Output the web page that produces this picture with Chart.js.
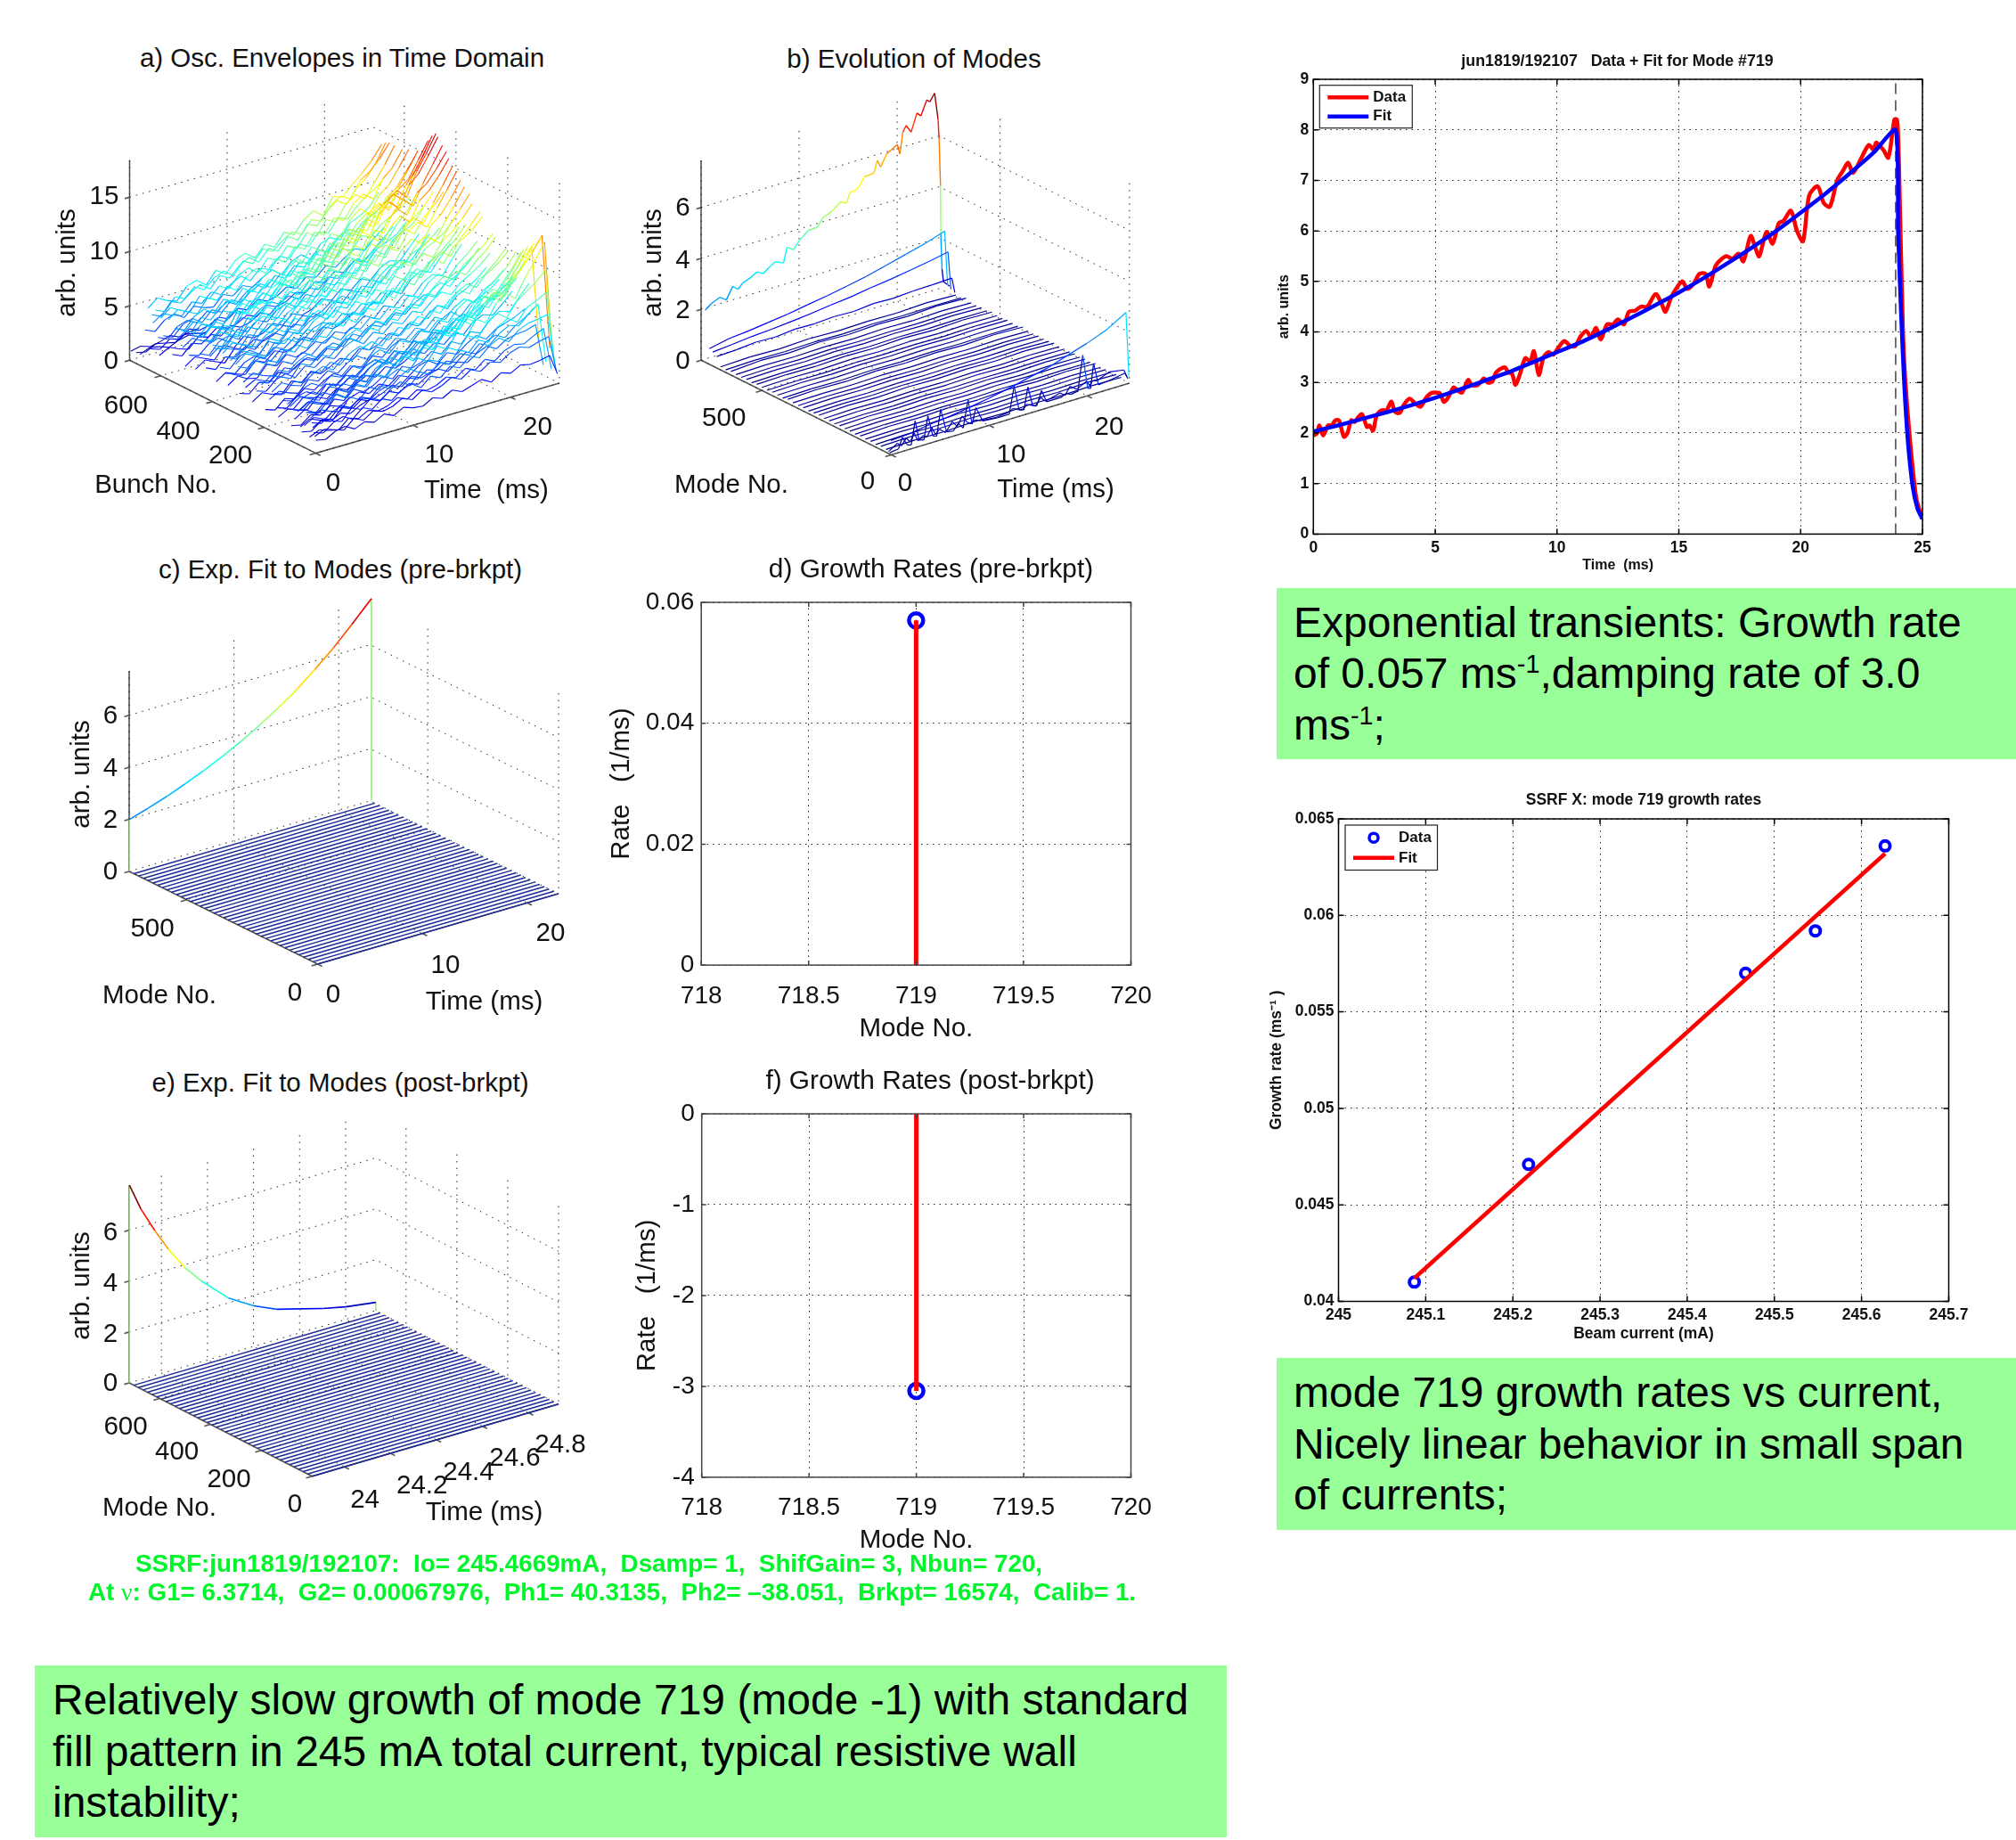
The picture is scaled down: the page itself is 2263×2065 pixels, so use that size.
<!DOCTYPE html>
<html>
<head>
<meta charset="utf-8">
<title>SSRF mode 719</title>
<script src="https://cdn.jsdelivr.net/npm/chart.js@4"></script>
<style>
  html, body { margin: 0; padding: 0; background: #fff; overflow: hidden; width: 2263px; height: 2065px; }
  canvas { position: absolute; }
  .txt { position: absolute; white-space: pre; color: #111; font-family: "Liberation Sans", Arial, sans-serif; }
  .box { position: absolute; background: #99ff99; color: #000; font-family: "Liberation Sans", Arial, sans-serif;
         font-size: 48px; line-height: 57.7px; box-sizing: border-box; white-space: nowrap; }
  .box sup { font-size: 60%; line-height: 0; }
  .cap { position: absolute; color: #00f52a; font-family: "Liberation Sans", Arial, sans-serif; font-weight: bold;
         font-size: 27.8px; white-space: pre; transform: translateX(-50%); }
</style>
</head>
<body>
<script>
// --- datos de las graficas 2D ---
const dataT = [0,.15,.25,.4,.6,.75,.9,1.05,1.25,1.4,1.55,1.7,1.85,2,2.2,2.3,2.45,2.6,2.8,3,3.2,3.35,3.55,3.7,3.95,4.15,4.4,4.6,4.8,5,5.2,5.35,5.5,5.75,5.9,6.1,6.35,6.5,6.75,7,7.15,7.35,7.5,7.85,8,8.15,8.3,8.5,8.7,8.9,9.05,9.25,9.45,9.65,9.85,10,10.3,10.55,10.75,10.95,11.2,11.4,11.6,11.8,12.05,12.3,12.5,12.75,12.95,13.2,13.45,13.7,14.05,14.3,14.45,14.7,14.95,15.15,15.35,15.6,15.85,16.1,16.25,16.5,16.7,16.95,17.2,17.45,17.65,17.95,18.15,18.3,18.6,18.85,19.1,19.3,19.6,19.85,20.1,20.35,20.7,20.95,21.2,21.5,21.75,21.95,22.15,22.5,22.8,23,23.1,23.4,23.6,23.85,23.95,24,24.05,24.2,24.3,24.5,24.75,25];
const dataZ = [1.95,2,2.15,1.95,2.15,2.15,2.25,2.25,1.93,2,2.25,2.22,2.32,2.37,2.12,2.15,2.05,2.35,2.45,2.45,2.62,2.42,2.4,2.55,2.68,2.6,2.52,2.68,2.78,2.8,2.78,2.62,2.68,2.9,2.85,2.8,3.05,2.95,2.95,3.08,3,3.02,3.2,3.3,3.2,3.18,2.95,3.2,3.48,3.42,3.62,3.15,3.5,3.6,3.55,3.65,3.82,3.72,3.72,3.9,4.02,3.9,4.08,3.85,4.15,4.15,4.25,4.15,4.4,4.42,4.5,4.5,4.75,4.55,4.4,4.7,4.9,5,4.85,4.95,5.15,5.15,4.9,5.3,5.42,5.5,5.45,5.55,5.4,5.9,5.65,5.5,5.98,5.75,6.15,6.2,6.4,6,5.8,6.7,6.88,6.55,6.48,7,7.2,7.35,7.15,7.45,7.7,7.6,7.75,7.6,7.45,8.2,8.2,7.9,7,4,3,1.8,.7,.3];
const fitT = [0,1,2,3,4,5,6,7,8,9,10,11,12,13,14,15,16,17,18,19,20,21,22,23,23.9,24,24.13,24.25,24.4,24.6,24.8,25];
const fitZ = [2.03,2.15,2.28,2.41,2.55,2.7,2.86,3.03,3.2,3.4,3.6,3.8,4.03,4.27,4.52,4.78,5.06,5.36,5.67,6,6.36,6.73,7.13,7.55,8,6,4.3,3,1.85,.94,.5,.3];
const breakT = [23.9, 23.9];
const breakZ = [0, 9];
const currentMa = [245.087,245.218,245.467,245.547,245.627];
const growthRate = [.041,.0471,.057,.0592,.0636];
const fitCurrent = [245.087,245.627];
const fitRate = [.0412,.0632];
const preMode = [719,719];
const preRate = [0,.057];
const postMode = [719,719];
const postRate = [0,-3.05];

// --- datos de las graficas 3D ---
const envT = [0,1,2,3,4,5,6,7,8,9,10,11,12,13,14,15,16,17,18,19,20,21,22,23,24,24.8];
const envBunches = [715,695,680,660,650,640,630,620,605,590,570,555,540,520,505,490,480,465,450,440,425,410,400,385,370,360,340,325,310,295,280,260,245,230,210,195,180,160,145,125,110,95,80,70,55,45,30,24,20,16,12,8,4,0,
  635,600,545,510,470,455,432,415,390,375,345,330,300,270,220,170,130,100,85,62,38,610,515,350,272,150,60];
const envRows = [
[.9,1.1,.8,1,1.3,.9,1.1,1.2],
[1,.8,1.3,1.1,.9,1.4,1.2,1],
[1,1.4,1.2,.9,1.3,1.5,1.1,1.4],
[3.5,3.1,3.9,4.2,3.6,4.4,4,3.8,4.7,4.3,5,4.6,5.2,5.7,5,5.9,6.3,5.6,6.8,7.1,6.6,7.9,8.3,8.9,10],
[5.6,6.3,5.8,5.5,6.6,6.9,6.2,7.3,6.7,7.7,8.1,7.4,8.4,7.9,9,8.5,9.6,10.2,9.5,11,10.7,11.6,12.4,13.3,14.5],
[2,1.7,2.4,2.1,2.8,2.4,2.6,3.1,2.7,3.4,3,3.7,3.3,3.5,4.1,3.7,4.5,4.2,5,4.6,5.3,5.8,5.4,6.3,7],
[4.5,5.1,4.7,4.4,5.4,5,5.8,5.3,6,6.5,5.8,6.7,6.3,7.3,6.8,7.9,7.4,8.5,8.1,9.3,8.9,9.9,10.6,11.1,12],
[5.8,5.4,6.5,6.1,6.9,6.4,7.2,7.6,6.9,8,7.5,8.6,8.1,8.8,9.4,8.9,10,9.6,10.8,11.4,10.9,12.3,12.9,13.8,15],
[1.8,2.3,1.9,1.6,2.5,2.2,2.9,2.5,2.7,3.2,2.8,3.6,3.2,3.4,4,3.7,4.5,4.1,4.9,4.5,5.4,5,5.9,6.7,7.5],
[3.8,3.4,4.3,4.6,4,4.9,4.4,5.3,4.8,5.6,6,5.4,6.4,5.9,7,6.6,7.5,7.1,8.2,8.7,8.1,9.2,9.7,10.2,11],
[5.5,6.2,5.7,5.3,6.5,6,7,6.4,7.4,7.9,7.2,8.3,7.7,8.9,8.4,9.7,9.2,10.5,10,11.3,11.9,11.2,12.8,13.6,15],
[2.5,2.1,3,2.7,3.3,2.9,3.6,3.2,3.4,4,3.6,4.4,4.8,4.2,5,4.6,5.5,5.1,5.9,6.4,5.8,6.8,7.2,7.6,8.5],
[4,4.6,4.1,3.8,4.9,4.4,5.2,4.7,5.6,6,5.3,6.3,5.8,6.8,6.4,7.4,7,8,7.6,8.7,8.3,9.2,9.7,10.2,11],
[5.1,4.7,5.8,5.3,6.2,6.6,5.9,7,6.5,7.5,7,8.1,8.6,7.8,9,8.4,9.6,9,10.3,11,10.3,11.9,12.5,13.7,15],
[2,2.6,2.2,1.8,2.9,2.4,3.2,2.8,3,3.6,3.2,4,3.6,3.9,4.6,4.2,5,4.6,5.4,5,5.9,6.3,6,7,8],
[3.2,2.9,3.7,4,3.4,4.3,3.8,4.6,4.2,5,5.4,4.8,5.7,5.2,6.2,5.8,6.7,6.3,7.4,8,7.3,8.5,8.9,9.4,10.5],
[5.1,5.9,5.4,5,6.3,5.8,6.8,6.2,7.3,7.7,7,8.2,7.7,8.9,8.3,9.8,9.2,10.6,10.1,11.7,12.3,11.6,13.3,14.5,16],
[2.2,2.8,2.4,2,3.1,2.7,3.4,3,3.3,3.9,3.5,4.3,3.9,4.2,4.9,4.4,5.3,4.9,5.8,5.3,6.3,6.8,6.4,7.4,8.5],
[3.8,3.4,4.4,4.7,4.1,5,4.5,5.5,5,5.9,6.4,5.7,6.8,6.2,7.4,7,8.1,7.5,8.8,9.5,8.9,10.1,10.7,11.4,12.5],
[5.4,6.2,5.8,5.2,6.8,6.3,7.3,6.7,7.9,8.4,7.6,9,8.4,9.9,9.2,10.8,10.2,11.9,11.2,13,13.8,12.9,15,16.4,18],
[2.8,2.4,3.3,3,3.7,3.2,3.9,4.2,3.7,4.5,4.1,5,4.5,5.4,5.8,5.2,6.2,5.8,6.8,7.4,6.8,7.8,8.2,8.7,9.5],
[4,4.7,4.2,3.9,5,4.6,5.5,5,6,6.4,5.8,6.9,6.4,7.5,7,8.3,7.7,9,8.5,9.9,10.6,9.9,11.2,12,13],
[5.2,4.8,6,5.5,6.6,7,6.3,7.5,6.9,8.1,8.6,7.8,9.2,8.6,10.1,9.5,11.1,10.4,12.1,12.8,12,13.8,14.4,15.5,16.8],
[2,2.6,2.2,1.9,2.9,2.5,3.3,2.9,3.2,3.8,3.3,4.2,3.8,4.1,4.8,4.3,5.2,4.8,5.7,5.2,6.3,6.8,6.4,7.5,8.5],
[3.5,3.1,4,4.3,3.7,4.6,4.1,5,4.5,5.3,5.7,5.1,6,5.6,6.6,6.1,7.2,6.8,7.8,8.4,7.8,9,9.4,10,11],
[4.9,5.6,5.2,4.7,6,5.5,6.4,5.9,7,7.4,6.8,7.9,7.4,8.6,8.1,9.4,8.8,10.2,9.7,11.2,11.8,11.1,12.6,14,15.5],
[2.2,2.8,2.3,2.1,3.1,2.7,3.5,3,3.3,3.9,3.5,4.3,3.9,4.3,5,4.5,5.4,5,5.9,5.5,6.5,7,6.6,7.9,9],
[3.4,3,3.9,4.2,3.6,4.4,4,4.9,4.4,5.2,5.6,5,5.9,5.5,6.4,6,7,6.6,7.6,8.2,7.6,8.7,9.2,9.9,11],
[4.5,5.2,4.8,4.3,5.5,5.1,5.9,5.5,6.4,6.9,6.2,7.3,6.8,7.9,7.3,8.6,8.1,9.4,8.9,10.2,10.9,10.2,11.7,12.8,14],
[2,1.7,2.5,2.2,2.9,2.5,3.1,3.5,3,3.8,3.4,4.2,3.8,4.6,5,4.4,5.3,4.9,5.7,6.2,5.7,6.6,7,7.6,8.5],
[3.2,3.8,3.3,3,4.1,3.6,4.4,3.9,4.7,5.1,4.5,5.4,5,5.8,5.4,6.3,5.9,6.8,6.4,7.5,8,7.4,8.4,9.1,10],
[4.2,3.9,4.9,4.5,5.2,5.6,5,5.9,5.5,6.4,6.8,6.1,7.2,6.7,7.9,7.3,8.6,8,9.2,9.9,9.2,10.5,11,11.6,12.5],
[1.8,2.4,2,1.7,2.7,2.3,3,2.6,3,3.5,3.1,3.9,3.5,3.8,4.5,4,4.9,4.4,5.2,5.8,5.2,6.2,6.6,7.2,8],
[3,2.7,3.5,3.8,3.2,4,3.6,4.3,3.9,4.7,5.1,4.5,5.3,4.9,5.7,5.3,6.2,5.8,6.6,7.2,6.7,7.6,8.1,8.7,9.5],
[3.8,4.4,4,3.6,4.7,4.3,5,4.6,5.4,5.8,5.2,6.2,5.7,6.6,6.1,7.2,6.7,7.8,7.3,8.5,9.1,8.5,9.5,10.2,11.2],
[1.7,1.4,2.2,1.9,2.6,2.2,2.8,3.2,2.7,3.4,3,3.8,3.4,4.2,4.6,4,4.9,4.4,5.3,5.8,5.1,6,6.4,6.8,7.5],
[2.8,3.3,2.9,2.6,3.6,3.2,3.9,3.4,4.1,4.5,3.9,4.8,4.3,5.1,4.7,5.5,5.1,6,5.5,6.4,6.9,6.3,7.2,7.7,8.5],
[3.6,3.3,4.2,3.8,4.4,4.8,4.2,5,4.6,5.4,5.8,5.1,6.1,5.6,6.6,6,7.1,6.6,7.6,8.2,7.6,8.7,9.1,9.7,10.5],
[1.6,2.1,1.7,1.5,2.4,2,2.7,2.3,2.6,3.1,2.7,3.4,3,3.4,4,3.6,4.3,3.9,4.7,4.3,5.2,5.6,5.3,6.1,7],
[2.6,2.3,3.1,3.4,2.8,3.6,3.2,3.9,3.4,4.2,4.6,4,4.8,4.4,5.2,4.8,5.6,5.2,6,6.6,6,7,7.3,7.8,8.5],
[3.2,3.7,3.3,3,4,3.6,4.3,3.8,4.6,5,4.4,5.3,4.9,5.7,5.2,6.2,5.8,6.7,6.3,7.5,8,7.4,8.6,9.7,11],
[1.4,1.2,1.9,1.6,2.2,1.9,2.4,2.7,2.3,2.9,2.5,3.2,2.8,3.5,3.8,3.2,4,3.6,4.3,4.8,4.2,4.9,5.2,5.5,6],
[2.2,2.8,2.3,2,3,2.6,3.4,2.9,3.2,3.8,3.3,4.2,3.8,4.1,4.8,4.3,5.2,4.7,5.6,5.2,6.2,6.7,6.4,7.5,8.5],
[3,3.6,3.2,2.9,4,3.5,4.4,3.9,4.9,5.3,4.7,5.7,5.2,6.3,5.8,7,6.5,7.6,7.2,8.5,9.1,8.4,9.8,11,12,2.5],
[1.3,1.1,1.8,1.5,2,1.7,2.2,2.5,2.1,2.7,2.3,2.9,2.6,3.2,3.5,3,3.6,3.3,3.9,4.3,3.8,4.4,4.6,4.7,5,1.1],
[2,2.5,2.1,1.8,2.8,2.3,3,2.6,2.9,3.4,3,3.7,3.3,3.6,4.2,3.8,4.5,4.1,4.9,4.5,5.3,5.8,5.5,6.3,7,1.5],
[3.4,3,3.9,4.3,3.7,4.7,4.2,5.1,4.6,5.6,6.1,5.4,6.5,5.9,7.2,6.6,8,7.4,8.7,9.5,8.8,10.4,11.1,12.2,13.5,2.9],
[1.2,1.6,1.3,1.1,1.9,1.6,2.1,1.8,2,2.5,2.1,2.7,2.4,2.6,3.1,2.8,3.4,3,3.7,3.3,4,4.3,4.1,4.6,5,1.1],
[3,3.5,3.1,2.8,3.9,3.4,4.3,3.8,4.8,5.2,4.6,5.7,5.1,6.3,5.7,7,6.4,7.7,7.1,8.6,9.3,8.6,10.2,11.5,13,2.7],
[2.6,2.3,3,3.4,2.9,3.7,3.3,4.2,3.7,4.5,5,4.4,5.3,4.9,5.9,5.4,6.5,6,7.1,7.8,7.1,8.3,9,9.6,10.5,2.2],
[2.2,2.7,2.3,2,3,2.6,3.4,2.9,3.7,4.1,3.5,4.5,4,4.9,4.4,5.5,5,5.9,5.4,6.6,7.1,6.5,7.6,8,8.5,1.8],
[1.8,1.5,2.2,2.5,2,2.8,2.4,3.1,2.7,3.4,3.7,3.1,3.9,3.5,4.3,3.9,4.7,4.3,5.1,5.6,5,5.8,6.2,6.3,6.5,1.4],
[1.5,1.9,1.6,1.3,2.1,1.7,2.3,2,2.2,2.7,2.3,2.9,2.5,2.8,3.3,2.9,3.5,3.1,3.7,3.4,4,4.3,4,4.3,4.5,1.1],
[1.2,1,1.5,1.7,1.2,1.6,1.3,1.8,1.4,1.9,1.6,1.5,2,1.7,2.2,1.8,2.1,2.4,1.9,2.5,2.2,2.7,2.5,2.6,2.8,.9],
[5.2,4.8,5.9,5.5,6.2,6.7,6,7,6.5,7.4,7.9,7.2,8.2,7.7,8.8,8.2,9.4,9,10.1,10.8,10.2,11.4,12.1,13.2,14.8],
[5.3,6,5.5,5.1,6.3,5.8,6.7,6.2,7.2,7.6,6.9,8,7.5,8.6,8.1,9.3,8.7,10,9.5,10.9,11.5,10.9,12.2,13.5,15],
[5,4.6,5.6,6,5.4,6.4,5.9,6.9,6.3,7.4,7.8,7.1,8.2,7.6,8.9,8.3,9.6,9.1,10.4,11.1,10.4,11.9,12.6,13.9,15.3],
[5,5.8,5.3,4.9,6,5.6,6.6,6,7.1,7.5,6.8,7.9,7.4,8.6,8,9.4,8.8,10.2,9.6,11.2,11.8,11.1,12.7,14.1,15.6],
[5.2,4.9,6,5.5,6.4,6.9,6.2,7.4,6.8,8,8.4,7.6,9,8.3,9.7,9.1,10.6,10,11.6,12.4,11.6,13.3,14,15.5,17],
[5.3,6.1,5.6,5.1,6.6,6.1,7.1,6.5,7.7,8.2,7.4,8.7,8.1,9.5,8.9,10.4,9.8,11.4,10.8,12.6,13.3,12.5,14.4,15.9,17.6],
[5.3,4.9,6.1,5.7,6.7,7.2,6.4,7.7,7,8.3,8.8,7.9,9.3,8.7,10.2,9.5,11.2,10.5,12.2,13.1,12.2,14.1,14.9,16.3,17.8],
[5.2,6,5.5,5,6.5,6,7,6.4,7.6,8,7.3,8.6,8,9.4,8.8,10.3,9.7,11.2,10.7,12.4,13.2,12.4,14.2,15.7,17.2],
[5,4.7,5.8,5.3,6.3,6.7,6.1,7.2,6.6,7.8,8.3,7.5,8.8,8.2,9.6,9,10.5,9.9,11.5,12.3,11.5,13.2,13.9,15,16.3],
[4.9,5.6,5.1,4.7,6,5.6,6.5,6,7,7.5,6.9,8,7.4,8.7,8.2,9.5,9,10.3,9.8,11.3,12,11.3,12.9,14.3,15.8],
[4.7,4.3,5.3,4.9,5.7,6.1,5.5,6.5,6,7,7.5,6.8,7.9,7.3,8.5,7.9,9.2,8.7,10,10.7,10,11.5,12.2,13.4,14.8],
[4.6,5.3,4.8,4.4,5.6,5.1,6,5.5,6.5,6.9,6.3,7.3,6.8,7.9,7.4,8.7,8.1,9.4,8.9,10.3,10.9,10.2,11.7,13,14.4],
[4.4,4,5,4.6,5.3,5.7,5.1,6,5.6,6.5,7,6.3,7.3,6.8,7.9,7.4,8.6,8,9.2,9.9,9.3,10.6,11.2,12.1,13.2],
[4.3,5,4.5,4.1,5.3,4.8,5.7,5.2,6.1,6.5,5.9,6.9,6.4,7.5,7,8.1,7.6,8.8,8.3,9.6,10.2,9.5,10.9,11.8,12.8],
[3.9,3.6,4.5,4.1,4.8,5.2,4.6,5.4,5,5.8,6.2,5.6,6.5,6,7,6.5,7.6,7.1,8.1,8.8,8.2,9.3,9.9,10.5,11.4],
[3.6,4.2,3.7,3.4,4.5,4.1,4.8,4.3,5.1,5.5,4.9,5.8,5.3,6.2,5.8,6.7,6.2,7.2,6.8,7.9,8.4,7.8,8.9,9.7,10.6],
[3.3,3,3.8,4.1,3.6,4.3,3.9,4.7,4.2,5,5.4,4.8,5.7,5.3,6.1,5.7,6.6,6.1,7.1,7.7,7.1,8.2,8.8,9.6,10.8],
[3.1,3.7,3.3,2.9,3.9,3.5,4.2,3.7,4.5,4.9,4.4,5.2,4.8,5.7,5.2,6.2,5.7,6.7,6.3,7.5,8.1,7.5,8.8,10,11.4],
[3,2.7,3.5,3.8,3.3,4.1,3.6,4.4,4,4.8,5.2,4.6,5.5,5,6,5.5,6.5,6,7.1,7.8,7.2,8.4,9.1,10.3,11.8],
[3.2,3.8,3.4,3,4.1,3.6,4.5,4,4.9,5.3,4.7,5.6,5.2,6.2,5.7,6.8,6.3,7.5,7,8.2,8.9,8.3,9.6,10.9,12.4],
[3.3,3,3.8,4.2,3.6,4.5,4.1,5,4.4,5.4,5.9,5.2,6.2,5.7,6.9,6.4,7.6,7,8.4,9.1,8.4,9.9,10.7,11.8,13],
[3.4,3,3.9,4.2,3.7,4.5,4.1,4.9,4.4,5.2,5.7,5.1,6,5.5,6.4,6,7,6.5,7.5,8.2,7.6,8.6,9,9.6,10.5],
[3.6,4.2,3.7,3.4,4.5,4,4.8,4.4,5.1,5.5,5,5.9,5.4,6.4,5.9,6.9,6.4,7.5,7,8.2,8.8,8.1,9.3,10.2,11.5],
[3.2,2.9,3.7,4,3.5,4.3,3.9,4.6,4.2,5,5.3,4.8,5.6,5.2,6,5.6,6.5,6,7,7.6,7.1,8.1,8.6,9.4,10.5],
[2.8,3.3,2.9,2.6,3.6,3.2,3.9,3.5,4.2,4.6,4,4.9,4.4,5.2,4.8,5.7,5.3,6.1,5.7,6.8,7.3,6.7,7.8,8.5,9.5],
[2.4,2.1,2.9,3.1,2.6,3.3,2.9,3.6,3.2,3.9,4.2,3.7,4.5,4,4.9,4.4,5.2,4.8,5.6,6.1,5.6,6.4,6.8,7.3,8],
[1.7,2.2,1.8,1.6,2.5,2.1,2.7,2.3,2.9,3.2,2.7,3.4,3,3.6,3.3,3.9,3.5,4.2,3.8,4.6,5,4.5,5.3,5.8,6.5]
];

const evoT = [0,.6,.96,1.48,2.15,2.82,3.34,3.82,4.56,5.3,5.94,6.42,7.16,7.98,8.35,9,9.57,10.5,11.43,12,12.9,13.84,14.4,14.77,15.5,16.25,17.2,17.55,17.9,18.5,19.6,19.86,20.16,20.5,21,21.6,22,22.6,22.9,23.4,23.75,23.85,24,24.03,24.15,24.3,24.95];
const evoZ = [2.05,2.23,2.29,2.38,2.2,2.66,2.48,2.67,2.78,2.94,2.8,2.95,3.12,2.98,3.56,3.38,3.66,3.96,3.98,4.29,4.43,4.7,4.58,4.96,5,5.41,5.44,5.89,5.6,6.04,6.28,5.88,6.71,6.93,6.61,7.29,7.13,7.69,7.58,7.86,6.8,6.04,4.15,2.26,.88,.35,.1];
const modeT = [0,3,6,9,12,15,18,21,24];
const modeNos = [660,640,620,600,580,560,540,520,500,480,460,440,420,400,380,360,340,320,300,280,260,240,220,200,180,160,140,120,100,80,60,40,20];
const modeRows = [
[.12,.16,.13,.18,.14,.17,.15,.2,.16],[.1,.14,.12,.15,.13,.17,.14,.16,.15],[.14,.22,.18,.25,.2,.26,.22,.28,.24],
[.12,.15,.13,.16,.14,.18,.15,.19,.16],[.11,.14,.12,.16,.13,.15,.14,.17,.15],[.13,.16,.14,.18,.15,.19,.16,.2,.17],
[.1,.13,.12,.15,.13,.16,.14,.16,.15],[.14,.17,.15,.2,.17,.22,.18,.23,.2],[.12,.15,.13,.17,.14,.18,.15,.18,.16],
[.11,.13,.12,.15,.14,.16,.14,.17,.15],[.13,.17,.14,.18,.16,.19,.17,.2,.18],[.12,.14,.13,.16,.14,.17,.15,.18,.16],
[.1,.13,.11,.15,.13,.16,.14,.16,.15],[.16,.2,.17,.23,.19,.24,.21,.26,.22],[.12,.14,.13,.16,.14,.17,.15,.18,.16],
[.11,.14,.12,.15,.13,.16,.14,.17,.15],[.13,.16,.14,.17,.15,.19,.16,.2,.17],[.1,.13,.11,.14,.13,.15,.14,.16,.15],
[.12,.15,.13,.17,.14,.18,.15,.19,.16],[.14,.18,.15,.2,.17,.21,.18,.23,.19],[.11,.14,.12,.15,.13,.16,.14,.17,.15],
[.12,.15,.13,.16,.14,.18,.15,.18,.16],[.1,.13,.11,.15,.13,.15,.14,.16,.15],[.13,.16,.14,.18,.15,.19,.16,.2,.18],
[.11,.14,.12,.15,.13,.17,.14,.17,.15],[.12,.15,.13,.16,.15,.18,.16,.19,.17],[.1,.13,.12,.14,.13,.16,.14,.16,.15],
[.13,.17,.15,.2,.16,.22,.18,.23,.2],[.11,.13,.12,.15,.13,.16,.14,.17,.15],[.12,.15,.13,.17,.14,.18,.15,.18,.16],
[.1,.14,.12,.15,.13,.16,.14,.17,.15],[.13,.16,.14,.18,.15,.19,.16,.2,.17],[.11,.14,.12,.16,.14,.17,.15,.18,.16]
];
const bigT = [0,2,4,6,8,10,12,14,16,18,20,22,24,24.3];
const bigModes = [703,690,675,2];
const bigRows = [
[.62,.78,.85,.95,1.05,1.18,1.3,1.45,1.6,1.8,2,2.2,2.45,.3],
[.55,.62,.7,.75,.82,.9,1,1.08,1.2,1.3,1.42,1.55,1.7,.2],
[.45,.48,.55,.52,.6,.58,.63,.6,.68,.65,.7,.72,.75,.15],
[.55,.6,.72,.8,.92,1.05,1.2,1.38,1.55,1.8,2.05,2.35,2.8,.25]
];
const spikeT = [0,.9,1.3,1.8,2.2,2.6,3,3.5,3.9,4.4,4.8,5.2,5.8,6.5,7,7.5,8,8.4,8.8,9.5,11,12.2,12.7,13.2,13.7,14.1,14.6,15,15.5,16,17.5,18,18.5,19.2,19.7,20.2,20.5,20.8,21.3,22.5,24,24.3];
const spikeA = [.05,.1,.5,.15,.1,1,.2,.15,1.05,.2,.15,1.15,.2,.15,.4,.15,1.2,.2,.8,.2,.15,.15,1.2,.2,.15,1,.2,.15,.7,.2,.2,.3,.2,.25,1.6,.25,.2,1.15,.25,.3,.4,.15];
const spikeB = [.08,.3,.15,.4,.2,.5,.15,.3,.2,.5,.2,.35,.15,.5,.25,.6,.3,.2,.3,.2,.15,.2,.3,.2,.15,.3,.2,.15,.4,.2,.35,.2,.5,.3,.4,.5,.3,.45,.4,.6,.5,.2];

const fitModes = [0,18,36,54,72,90,108,126,144,162,180,198,216,234,252,270,288,306,324,342,360,378,396,414,432,450,468,486,504,522,540,558,576,594,612,630,648,666,684,702];
const preT = [0,1.77,3.54,5.31,7.08,8.85,10.62,12.39,14.16,15.93,17.7,19.47,21.24,23.1];
const preZ = [2,2.22,2.46,2.74,3.04,3.37,3.74,4.15,4.6,5.1,5.68,6.3,7,7.77];
const postT = [23.86,23.91,23.97,24.03,24.1,24.17,24.29,24.4,24.5,24.6,24.7,24.8,24.93];
const postZ = [7.77,6.7,5.7,4.8,3.9,3.2,2.2,1.6,1.2,.95,.7,.5,.33];

// --- utilidades ---
const FONT = '"Liberation Sans", Arial, sans-serif';

function jet(v) {
  v = Math.max(0, Math.min(1, v));
  const r = Math.max(0, Math.min(1, 1.5 - Math.abs(4 * v - 3)));
  const g = Math.max(0, Math.min(1, 1.5 - Math.abs(4 * v - 2)));
  const b = Math.max(0, Math.min(1, 1.5 - Math.abs(4 * v - 1)));
  return `rgb(${Math.round(r * 255)},${Math.round(g * 255)},${Math.round(b * 255)})`;
}

function putText(text, cx, cy, size, rot) {
  const d = document.createElement('div');
  d.className = 'txt';
  d.textContent = text;
  d.style.left = cx + 'px';
  d.style.top = cy + 'px';
  d.style.fontSize = size + 'px';
  d.style.lineHeight = '1';
  d.style.transform = `translate(-50%,-50%) rotate(${rot || 0}deg)`;
  document.body.appendChild(d);
}

function newCanvas(left, top, w, h) {
  const c = document.createElement('canvas');
  c.width = w; c.height = h;
  c.style.left = left + 'px';
  c.style.top = top + 'px';
  c.style.width = w + 'px';
  c.style.height = h + 'px';
  document.body.appendChild(c);
  return c;
}

function zip(xs, ys) { return xs.map((x, i) => ({ x: x, y: ys[i] })); }

// marco con marcas hacia dentro, como en matlab
const framePlugin = {
  id: 'frame',
  afterDatasetsDraw(chart, args, o) {
    const a = chart.chartArea, c = chart.ctx;
    c.save();
    c.strokeStyle = o.color || '#333';
    c.lineWidth = o.width || 1.5;
    c.strokeRect(a.left, a.top, a.right - a.left, a.bottom - a.top);
    const len = o.tick || 6;
    c.beginPath();
    chart.scales.x.ticks.forEach(t => {
      const p = chart.scales.x.getPixelForValue(t.value);
      c.moveTo(p, a.bottom); c.lineTo(p, a.bottom - len);
      c.moveTo(p, a.top); c.lineTo(p, a.top + len);
    });
    chart.scales.y.ticks.forEach(t => {
      const p = chart.scales.y.getPixelForValue(t.value);
      c.moveTo(a.left, p); c.lineTo(a.left + len, p);
      c.moveTo(a.right, p); c.lineTo(a.right - len, p);
    });
    c.stroke();
    c.restore();
  }
};

// leyenda en caja blanca dentro del area
const boxLegend = {
  id: 'boxLegend',
  afterDatasetsDraw(chart, args, o) {
    if (!o.items) return;
    const a = chart.chartArea, c = chart.ctx;
    const x = a.left + o.x, y = a.top + o.y;
    c.save();
    c.fillStyle = '#fff';
    c.strokeStyle = '#222';
    c.lineWidth = 1.2;
    c.fillRect(x, y, o.w, o.h);
    c.strokeRect(x, y, o.w, o.h);
    c.font = 'bold 17px ' + FONT;
    c.textBaseline = 'middle';
    o.items.forEach((it, i) => {
      const ly = y + o.h * (i === 0 ? 0.28 : 0.73);
      c.strokeStyle = it.color;
      if (it.marker) {
        c.lineWidth = 3.5;
        c.beginPath();
        c.arc(x + 32, ly, 5, 0, Math.PI * 2);
        c.stroke();
      } else {
        c.lineWidth = 4.5;
        c.beginPath();
        c.moveTo(x + 9, ly);
        c.lineTo(x + 55, ly);
        c.stroke();
      }
      c.fillStyle = '#111';
      c.fillText(it.label, x + 60, ly);
    });
    c.restore();
  }
};

function plot2d(cfg) {
  const p = cfg.plot;
  const lab = cfg.labelSize;
  const gutL = p.x0 - cfg.yTitleX + 0.6 * lab;
  const gutB = cfg.xTitleY - p.y1 + 0.6 * lab;
  const left = Math.round(p.x0 - gutL);
  const right = Math.round(2 * cfg.titleX - left);
  const gutT = cfg.gutT;
  const gutR = right - p.x1;
  const top = Math.round(p.y0 - gutT);
  const w = right - left, h = Math.round(p.y1 + gutB - top);
  const padTop = cfg.titleY - top - 0.6 * cfg.titleSize;
  const tickFont = { family: FONT, size: cfg.tickSize, weight: cfg.weight };
  const dash = [1.5, 5];
  return new Chart(newCanvas(left, top, w, h), {
    type: 'scatter',
    data: { datasets: cfg.datasets },
    plugins: [framePlugin, boxLegend],
    options: {
      responsive: false,
      animation: false,
      layout: { padding: 0 },
      plugins: {
        legend: { display: false },
        tooltip: { enabled: false },
        title: {
          display: true, text: cfg.title, color: '#111',
          font: { family: FONT, size: cfg.titleSize, weight: cfg.weight, lineHeight: 1.2 },
          padding: { top: padTop, bottom: gutT - padTop - 1.2 * cfg.titleSize }
        },
        frame: { color: cfg.frame, tick: cfg.tickLen },
        boxLegend: cfg.legend || {}
      },
      scales: {
        x: {
          type: 'linear', min: cfg.x[0], max: cfg.x[1],
          ticks: { stepSize: cfg.x[2], font: tickFont, color: '#111', padding: cfg.xPad, maxRotation: 0, autoSkip: false,
                   callback: v => String(+v.toFixed(3)) },
          grid: { color: '#222', drawTicks: false, lineWidth: 1 },
          border: { dash: dash, display: false },
          title: { display: true, text: cfg.xLabel, color: '#111', padding: 0,
                   font: { family: FONT, size: lab, weight: cfg.weight, lineHeight: 1.2 } },
          afterFit(s) { s.height = gutB; }
        },
        y: {
          type: 'linear', min: cfg.y[0], max: cfg.y[1],
          ticks: { stepSize: cfg.y[2], font: tickFont, color: '#111', padding: cfg.yPad, autoSkip: false,
                   callback: v => String(+v.toFixed(3)) },
          grid: { color: '#222', drawTicks: false, lineWidth: 1 },
          border: { dash: dash, display: false },
          title: { display: true, text: cfg.yLabel, color: '#111', padding: 0,
                   font: { family: FONT, size: lab, weight: cfg.weight, lineHeight: 1.2 } },
          afterFit(s) { s.width = gutL; }
        },
        // eje vacio a la derecha, solo reserva sitio para que el titulo quede centrado
        yRight: {
          axis: 'y', type: 'linear', position: 'right',
          ticks: { display: false }, grid: { display: false }, border: { display: false },
          afterFit(s) { s.width = gutR; }
        }
      }
    }
  });
}

function panel3d(cfg) {
  const { L, F, R } = cfg;
  const t0 = cfg.t[0], t1 = cfg.t[1];
  const project = (t, m, z) => {
    const ft = (t - t0) / (t1 - t0), fm = m / cfg.mMax;
    return { x: F.x + ft * (R.x - F.x) + fm * (L.x - F.x), y: F.y + ft * (R.y - F.y) + fm * (L.y - F.y) - z * cfg.zUnit, z: z };
  };
  const ds = [];
  const guide = (pts, dotted) => ds.push({
    data: pts, showLine: true, pointRadius: 0, order: 900,
    borderColor: dotted ? '#222' : '#555', borderWidth: dotted ? 1 : 1.6, borderDash: dotted ? [1.5, 6] : []
  });
  // paredes y suelo
  cfg.zTicks.forEach(z => guide([project(t0, cfg.mMax, z), project(t1, cfg.mMax, z), project(t1, 0, z)], true));
  cfg.tTicks.forEach(t => {
    guide([project(t, cfg.mMax, cfg.zTop), project(t, cfg.mMax, 0), project(t, 0, 0)], true);
    guide([project(t, 0, 0), project(t, -0.025 * cfg.mMax, 0)], false);
  });
  cfg.mTicks.forEach(m => {
    guide([project(t1, m, cfg.zTop), project(t1, m, 0), project(t0, m, 0)], true);
    guide([project(t0, m, 0), project(t0 - 0.025 * (t1 - t0), m, 0)], false);
  });
  // ejes
  guide([project(t0, cfg.mMax, cfg.zTop), project(t0, cfg.mMax, 0), project(t0, 0, 0), project(t1, 0, 0)], false);
  cfg.zTicks.forEach(z => guide([project(t0, cfg.mMax, z), project(t0 - 0.02 * (t1 - t0), cfg.mMax, z)], false));
  // filas, de atras hacia delante
  cfg.rows.forEach((r, i) => {
    const pts = r.z.map((z, k) => project(r.t[k], r.m, z));
    const d = {
      data: pts, showLine: true, pointRadius: 0, order: 500 - i, borderWidth: r.width || cfg.lineWidth, tension: 0
    };
    if (r.color) d.borderColor = r.color;
    else d.segment = { borderColor: c => jet(pts[c.p0DataIndex].z / cfg.zMax) };
    ds.push(d);
  });
  const b = cfg.box;
  return new Chart(newCanvas(b.x0, b.y0, b.x1 - b.x0, b.y1 - b.y0), {
    type: 'scatter',
    data: { datasets: ds },
    options: {
      responsive: false,
      animation: false,
      layout: { padding: 0 },
      plugins: { legend: { display: false }, tooltip: { enabled: false } },
      scales: {
        x: { type: 'linear', display: false, min: b.x0, max: b.x1 },
        y: { type: 'linear', display: false, min: b.y0, max: b.y1, reverse: true }
      }
    }
  });
}

const SZ3D = 29.5;

// --- panel a ---
panel3d({
  L: { x: 145.5, y: 404.3 }, F: { x: 354.5, y: 508.6 }, R: { x: 628, y: 430 },
  zUnit: 12.2, zTop: 18.4, t: [0, 25], mMax: 720, zMax: 18, lineWidth: 1.1,
  zTicks: [0, 5, 10, 15], tTicks: [0, 10, 20], mTicks: [0, 200, 400, 600],
  box: { x0: 100, y0: 100, x1: 650, y1: 530 },
  rows: envBunches.map((m, i) => ({ m: m, t: envT, z: envRows[i] })).sort((p, q) => q.m - p.m)
});
[['a) Osc. Envelopes in Time Domain', 384, 65], ['15', 117, 218.6], ['10', 117, 281], ['5', 124.7, 343.6], ['0', 124.7, 404.3],
 ['600', 141.4, 454.3], ['400', 200, 482.9], ['200', 258.6, 510.4], ['0', 374, 541.4], ['10', 493, 508.6], ['20', 603.5, 477.5],
 ['Bunch No.', 175, 542.5], ['Time  (ms)', 546, 549]].forEach(t => putText(t[0], t[1], t[2], SZ3D));
putText('arb. units', 74, 295, SZ3D, -90);

// --- panel b ---
panel3d({
  L: { x: 787, y: 404.3 }, F: { x: 1000.4, y: 510.4 }, R: { x: 1267.8, y: 430 },
  zUnit: 28.57, zTop: 7.85, t: [0, 24.3], mMax: 735, zMax: 8, lineWidth: 1.2,
  zTicks: [0, 2, 4, 6], tTicks: [0, 10, 20], mTicks: [0, 500],
  box: { x0: 750, y0: 90, x1: 1290, y1: 530 },
  rows: [{ m: 719, t: evoT, z: evoZ, width: 1.4 }]
    .concat(bigModes.slice(0, 3).map((m, i) => ({ m: m, t: bigT, z: bigRows[i] })))
    .concat(modeNos.map((m, i) => ({ m: m, t: modeT, z: modeRows[i] })))
    .concat([{ m: bigModes[3], t: bigT, z: bigRows[3] }, { m: 10, t: spikeT, z: spikeB }, { m: 6, t: spikeT, z: spikeA }])
});
[['b) Evolution of Modes', 1026, 65.7], ['6', 766.5, 231.8], ['4', 766.5, 290.7], ['2', 766.5, 347], ['0', 766.5, 404.3],
 ['500', 812.7, 467.5], ['0', 974, 539], ['0', 1016, 541.4], ['10', 1135, 508.6], ['20', 1245, 477.5],
 ['Mode No.', 821, 542.5], ['Time (ms)', 1185, 548]].forEach(t => putText(t[0], t[1], t[2], SZ3D));
putText('arb. units', 732, 295, SZ3D, -90);

// --- panel c ---
panel3d({
  L: { x: 145, y: 977.9 }, F: { x: 356.5, y: 1082 }, R: { x: 627, y: 1002.9 },
  zUnit: 29.2, zTop: 7.7, t: [0, 23], mMax: 720, zMax: 7.8, lineWidth: 1.5,
  zTicks: [0, 2, 4, 6], tTicks: [0, 10, 20], mTicks: [0, 500],
  box: { x0: 100, y0: 660, x1: 650, y1: 1100 },
  rows: [
    { m: 719, t: [0, 0], z: [2, 0], color: '#80f060', width: 1.4 },
    { m: 719, t: [23.1, 23.1], z: [7.77, 0], color: '#80f060', width: 1.4 },
    { m: 719, t: preT, z: preZ, width: 1.6 }
  ].concat(fitModes.slice().reverse().map(m => ({ m: m, t: [0, 23], z: [0, 0], color: '#1c2a96' })))
});
[['c) Exp. Fit to Modes (pre-brkpt)', 382, 639], ['6', 124, 801.8], ['4', 124, 860.7], ['2', 124, 919], ['0', 124, 976.8],
 ['500', 171, 1041], ['0', 331, 1112.5], ['0', 374, 1115], ['10', 500, 1082], ['20', 618, 1046.4],
 ['Mode No.', 179, 1116], ['Time (ms)', 543.5, 1123]].forEach(t => putText(t[0], t[1], t[2], SZ3D));
putText('arb. units', 90.4, 868.6, SZ3D, -90);

// --- panel e ---
panel3d({
  L: { x: 145, y: 1552 }, F: { x: 350.4, y: 1656.8 }, R: { x: 627, y: 1575.7 },
  zUnit: 28.57, zTop: 7.77, t: [23.86, 24.93], mMax: 720, zMax: 7.8, lineWidth: 1.5,
  zTicks: [0, 2, 4, 6], tTicks: [24, 24.2, 24.4, 24.6, 24.8], mTicks: [0, 200, 400, 600],
  box: { x0: 100, y0: 1240, x1: 650, y1: 1680 },
  rows: [
    { m: 719, t: [23.86, 23.86], z: [7.77, 0], color: '#80f060', width: 1.4 },
    { m: 719, t: [24.93, 24.93], z: [.33, 0], color: '#80f060', width: 1.4 },
    { m: 719, t: postT, z: postZ, width: 1.6 }
  ].concat(fitModes.slice().reverse().map(m => ({ m: m, t: [23.86, 24.93], z: [0, 0], color: '#1c2a96' })))
});
[['e) Exp. Fit to Modes (post-brkpt)', 382, 1215], ['6', 124, 1381.8], ['4', 124, 1439], ['2', 124, 1496], ['0', 124, 1551.4],
 ['600', 141, 1599.6], ['400', 198.6, 1628], ['200', 257, 1658.6], ['0', 331, 1687], ['24', 409.6, 1681.8],
 ['24.2', 473.7, 1665.7], ['24.4', 526, 1651.4], ['24.6', 578, 1635], ['24.8', 629, 1620],
 ['Mode No.', 179, 1690.7], ['Time (ms)', 543.5, 1696]].forEach(t => putText(t[0], t[1], t[2], SZ3D));
putText('arb. units', 90.4, 1442.5, SZ3D, -90);

// --- paneles d y f ---
plot2d({
  plot: { x0: 787.5, x1: 1269.5, y0: 675.9, y1: 1083.5 },
  title: 'd) Growth Rates (pre-brkpt)', titleX: 1045, titleY: 640, titleSize: 29.8, weight: 'normal',
  xLabel: 'Mode No.', yLabel: 'Rate   (1/ms)', xTitleY: 1155.7, yTitleX: 698, labelSize: 29.5,
  tickSize: 28, gutT: 60, xPad: 18, yPad: 8, frame: '#444', tickLen: 5,
  x: [718, 720, .5], y: [0, .06, .02],
  datasets: [
    { data: zip(preMode, preRate), showLine: true, pointRadius: 0, borderColor: '#ff0000', borderWidth: 5 },
    { data: zip([719], [.057]), showLine: false, pointRadius: 8, pointBorderWidth: 4.5, pointBorderColor: '#0000ff', pointBackgroundColor: 'rgba(0,0,0,0)' }
  ]
});
plot2d({
  plot: { x0: 787.5, x1: 1269.5, y0: 1250.4, y1: 1657.6 },
  title: 'f) Growth Rates (post-brkpt)', titleX: 1044, titleY: 1213.5, titleSize: 29.8, weight: 'normal',
  xLabel: 'Mode No.', yLabel: 'Rate   (1/ms)', xTitleY: 1729, yTitleX: 726.5, labelSize: 29.5,
  tickSize: 28, gutT: 60, xPad: 18, yPad: 8, frame: '#444', tickLen: 5,
  x: [718, 720, .5], y: [-4, 0, 1],
  datasets: [
    { data: zip(postMode, postRate), showLine: true, pointRadius: 0, borderColor: '#ff0000', borderWidth: 5 },
    { data: zip([719], [-3.05]), showLine: false, pointRadius: 8, pointBorderWidth: 4.5, pointBorderColor: '#0000ff', pointBackgroundColor: 'rgba(0,0,0,0)' }
  ]
});

// --- grafica superior derecha ---
plot2d({
  plot: { x0: 1474.7, x1: 2158, y0: 88.6, y1: 599 },
  title: 'jun1819/192107   Data + Fit for Mode #719', titleX: 1815.5, titleY: 68.9, titleSize: 17.8, weight: 'bold',
  xLabel: 'Time  (ms)', yLabel: 'arb. units', xTitleY: 634, yTitleX: 1442, labelSize: 16,
  tickSize: 17.5, gutT: 40, xPad: 5, yPad: 5, frame: '#000', tickLen: 6,
  x: [0, 25, 5], y: [0, 9, 1],
  legend: { x: 7, y: 6.7, w: 104, h: 48, items: [{ label: 'Data', color: '#ff0000' }, { label: 'Fit', color: '#0000ff' }] },
  datasets: [
    { data: zip(fitT, fitZ), showLine: true, pointRadius: 0, borderColor: '#0000ff', borderWidth: 4.5, tension: 0.2 },
    { data: zip(dataT, dataZ), showLine: true, pointRadius: 0, borderColor: '#ff0000', borderWidth: 4.5, tension: 0.3 },
    { data: zip(breakT, breakZ), showLine: true, pointRadius: 0, borderColor: '#444', borderWidth: 1.5, borderDash: [12, 7] }
  ]
});

// --- grafica inferior derecha ---
plot2d({
  plot: { x0: 1502, x1: 2187.5, y0: 919, y1: 1460 },
  title: 'SSRF X: mode 719 growth rates', titleX: 1845, titleY: 897.8, titleSize: 17.5, weight: 'bold',
  xLabel: 'Beam current (mA)', yLabel: 'Growth rate (ms\u207B\u00B9 )', xTitleY: 1497, yTitleX: 1433, labelSize: 17.5,
  tickSize: 17.5, gutT: 40, xPad: 5, yPad: 5, frame: '#000', tickLen: 6,
  x: [245, 245.7, .1], y: [.04, .065, .005],
  legend: { x: 7.5, y: 7, w: 103.5, h: 50.5, items: [{ label: 'Data', color: '#0000ff', marker: true }, { label: 'Fit', color: '#ff0000' }] },
  datasets: [
    { data: zip(fitCurrent, fitRate), showLine: true, pointRadius: 0, borderColor: '#ff0000', borderWidth: 4.5 },
    { data: zip(currentMa, growthRate), showLine: false, pointRadius: 5.5, pointBorderWidth: 4, pointBorderColor: '#0000ff', pointBackgroundColor: 'rgba(0,0,0,0)' }
  ]
});

// --- textos ---
function caption(html, cx, cy) {
  const d = document.createElement('div');
  d.className = 'cap';
  d.innerHTML = html;
  d.style.left = cx + 'px';
  d.style.top = (cy - 16) + 'px';
  document.body.appendChild(d);
}
caption('SSRF:jun1819/192107:  Io= 245.4669mA,  Dsamp= 1,  ShifGain= 3, Nbun= 720,', 661, 1755);
caption('At <span style="font-family:\'Liberation Serif\',serif;font-weight:normal">\u03BD</span>: G1= 6.3714,  G2= 0.00067976,  Ph1= 40.3135,  Ph2= \u201338.051,  Brkpt= 16574,  Calib= 1.', 687, 1787);

function note(html, x, y, w, h, pad) {
  const d = document.createElement('div');
  d.className = 'box';
  d.innerHTML = html;
  d.style.left = x + 'px';
  d.style.top = y + 'px';
  d.style.width = w + 'px';
  d.style.height = h + 'px';
  d.style.padding = '10px 0 0 ' + pad + 'px';
  document.body.appendChild(d);
}
note('Exponential transients: Growth rate<br>of 0.057 ms<sup>-1</sup>,damping rate of 3.0<br>ms<sup>-1</sup>;', 1433, 659.5, 830, 192, 19);
note('mode 719 growth rates vs current,<br>Nicely linear behavior in small span<br>of currents;', 1433, 1524, 830, 193, 19);
note('Relatively slow growth of mode 719 (mode -1) with standard<br>fill pattern in 245 mA total current, typical resistive wall<br>instability;', 39, 1869, 1338, 193, 20);
</script>
</body>
</html>
